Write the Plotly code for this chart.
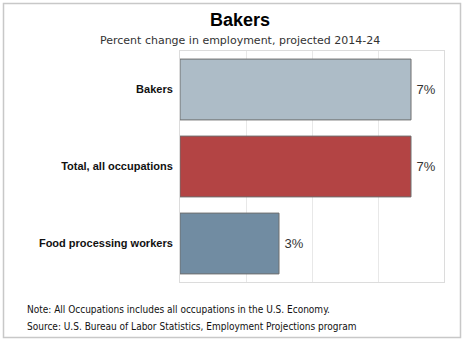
import plotly.graph_objects as go

# Projected percent change in employment, 2014-24
categories = ["Bakers", "Total, all occupations", "Food processing workers"]
values = [7, 7, 3]
bar_colors = ["#adbcc7", "#b34444", "#718ca2"]

fig = go.Figure()
fig.add_trace(go.Bar(
    y=categories,
    x=values,
    orientation="h",
    marker=dict(color=bar_colors, line=dict(color="#6e6e6e", width=1)),
    texttemplate="\u2009%{x}%",
    textposition="outside",
    textfont=dict(family="Liberation Sans, Arial, sans-serif", size=13, color="#333333"),
    cliponaxis=False,
    hoverinfo="skip",
))

fig.update_layout(
    width=465,
    height=343,
    margin=dict(l=180, r=21, t=51, b=61),
    paper_bgcolor="white",
    plot_bgcolor="white",
    showlegend=False,
    bargap=0.21,
    xaxis=dict(
        range=[0, 8],
        dtick=2,
        showticklabels=False,
        showgrid=True,
        gridcolor="#e8e8e8",
        gridwidth=1,
        zeroline=False,
        showline=True,
        linecolor="#dcdcdc",
        mirror=True,
        fixedrange=True,
    ),
    yaxis=dict(
        autorange="reversed",
        showgrid=False,
        zeroline=False,
        showline=True,
        linecolor="#dcdcdc",
        mirror=True,
        ticks="",
        ticklabelstandoff=4,
        tickfont=dict(family="Liberation Sans, Arial, sans-serif", size=11, color="#111111", weight="bold"),
        fixedrange=True,
    ),
    shapes=[
        # outer frame around the whole graphic
        dict(
            type="rect", xref="paper", yref="paper",
            x0=(3.5 - 180) / 264, x1=(460.5 - 180) / 264,
            y0=(282 - 337.5) / 231, y1=(282 - 3.5) / 231,
            line=dict(color="#c8c8c8", width=1.5),
            layer="below",
        ),
    ],
    annotations=[
        dict(
            text="<b>Bakers</b>", xref="paper", yref="paper",
            x=(240 - 180) / 264, y=(282 - 20) / 231,
            xanchor="center", yanchor="middle", showarrow=False,
            font=dict(family="Liberation Sans, Arial, sans-serif", size=18, color="#000000"),
        ),
        dict(
            text="Percent change in employment, projected 2014-24", xref="paper", yref="paper",
            x=(240 - 180) / 264, y=(282 - 41) / 231,
            xanchor="center", yanchor="middle", showarrow=False,
            font=dict(family="DejaVu Sans, sans-serif", size=11, color="#333333"),
        ),
        dict(
            text="Note: All Occupations includes all occupations in the U.S. Economy.",
            xref="paper", yref="paper",
            x=(25 - 180) / 264, y=(282 - 309) / 231,
            xanchor="left", yanchor="middle", showarrow=False,
            font=dict(family="DejaVu Sans Condensed, DejaVu Sans, sans-serif", size=10, color="#111111"),
        ),
        dict(
            text="Source: U.S. Bureau of Labor Statistics, Employment Projections program",
            xref="paper", yref="paper",
            x=(25 - 180) / 264, y=(282 - 326) / 231,
            xanchor="left", yanchor="middle", showarrow=False,
            font=dict(family="DejaVu Sans Condensed, DejaVu Sans, sans-serif", size=10, color="#111111"),
        ),
    ],
)

fig.write_html("out.html")
